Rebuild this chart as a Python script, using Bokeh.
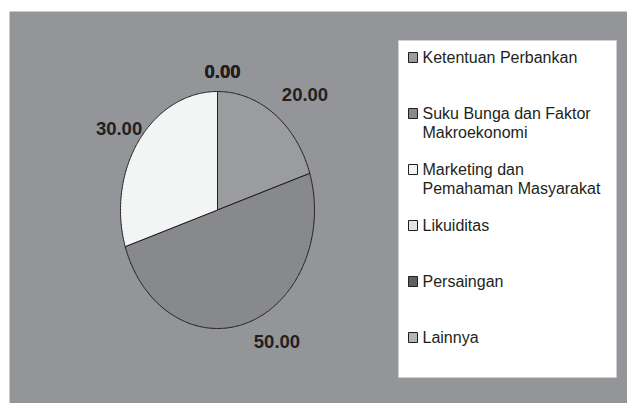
import numpy as np
from bokeh.plotting import figure
from bokeh.models import Range1d
from bokeh.embed import file_html
from bokeh.resources import INLINE
from bokeh.core.properties import value

# ---------------- data ----------------
categories = [
    "Ketentuan Perbankan",
    "Suku Bunga dan Faktor\nMakroekonomi",
    "Marketing dan\nPemahaman Masyarakat",
    "Likuiditas",
    "Persaingan",
    "Lainnya",
]
values = [20.0, 50.0, 30.0, 0.0, 0.0, 0.0]

# ---------------- style / layout ----------------
slice_colors = ["#9b9c9f", "#88898c", "#f3f4f4", "#e3e3e4", "#5f6062", "#b4b5b7"]
bg_color = "#949599"
text_color = "#231f20"
FONT = "Liberation Sans"

W, H = 627, 403
X0, X1 = 9, 627
Y0, Y1 = 11, 403

CX, CY, RX, RY = 217, 209.5, 97, 118.5
label_dx = [30.5, 29.5, -20, 5, 5, 5]
label_dy = [-20, 19, -12, -20.5, -20.5, -20.5]

LEG_L, LEG_R, LEG_T, LEG_B = 398, 616, 40, 377
leg_y0, leg_step = 57, 56
mark_x, text_x = 412.5, 422
line_h = 19

p = figure(width=W, height=H, output_backend="svg", toolbar_location=None,
           title=None, x_range=Range1d(X0, X1), y_range=Range1d(Y1, Y0),
           min_border_left=X0, min_border_right=0, min_border_top=Y0,
           min_border_bottom=0)
p.axis.visible = False
p.xgrid.visible = False
p.ygrid.visible = False
p.outline_line_color = None
p.background_fill_color = bg_color
p.border_fill_color = "white"

# ---------------- pie (elliptical) ----------------
total = sum(values)
start = 0.0
xs, ys, lx, ly, labels = [], [], [], [], []
for i, v in enumerate(values):
    span = v / total * 2 * np.pi
    t = np.linspace(start, start + span, max(2, int(span * 80) + 2))
    xs.append([CX] + list(CX + RX * np.sin(t)))
    ys.append([CY] + list(CY - RY * np.cos(t)))
    mid = start + span / 2
    lx.append(CX + RX * np.sin(mid) + label_dx[i])
    ly.append(CY - RY * np.cos(mid) + label_dy[i])
    labels.append("%.2f" % v)
    start += span

p.patches(xs=xs, ys=ys, fill_color=slice_colors, line_color=text_color,
          line_width=1)

p.text(x=lx, y=ly, text=labels, text_font=value(FONT), text_font_style="bold",
       text_font_size="18.5px", text_color=text_color, text_align="center",
       text_baseline="middle")

# ---------------- legend ----------------
p.quad(left=[LEG_L], right=[LEG_R], top=[LEG_T], bottom=[LEG_B],
       fill_color="white", line_color="#cfcfd1", line_width=1)

my = [leg_y0 + i * leg_step for i in range(len(categories))]
p.rect(x=[mark_x] * len(categories), y=my, width=9, height=10,
       fill_color=slice_colors, line_color=text_color, line_width=1)

tx, ty, tt = [], [], []
for i, c in enumerate(categories):
    for j, line in enumerate(c.split("\n")):
        tx.append(text_x)
        ty.append(my[i] + j * line_h)
        tt.append(line)
p.text(x=tx, y=ty, text=tt, text_font=value(FONT), text_font_size="16px",
       text_color=text_color, text_align="left", text_baseline="middle")

open("out.html", "w").write(file_html(p, INLINE))
